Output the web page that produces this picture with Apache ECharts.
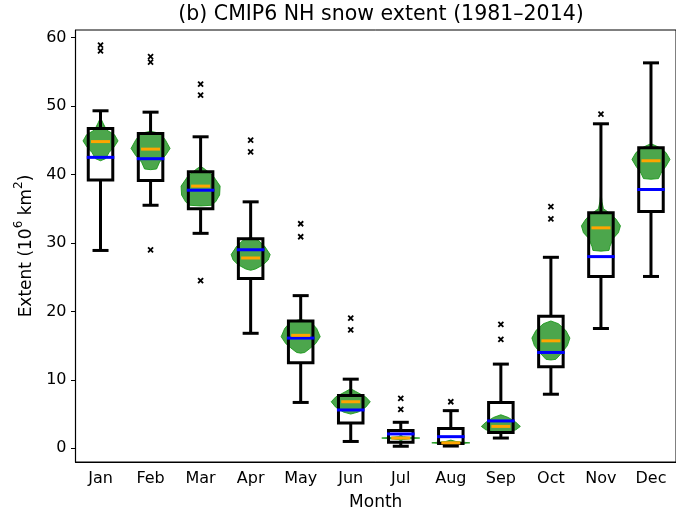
<!DOCTYPE html>
<html><head><meta charset="utf-8">
<script src="https://cdn.jsdelivr.net/npm/echarts@6/dist/echarts.min.js"></script>
<style>html,body{margin:0;padding:0;background:#fff}#c{width:676px;height:516px}</style>
</head><body><div id="c"></div>
<script>
const months = ['Jan','Feb','Mar','Apr','May','Jun','Jul','Aug','Sep','Oct','Nov','Dec'];
const whiskerLow  = [28.9, 35.5, 31.4, 16.8,  6.7,  1.0, 0.3, 0.33, 1.5,  7.9, 17.5, 25.1];
const q1          = [39.2, 39.1, 35.0, 24.8, 12.5,  3.7, 0.9, 0.7,  2.3, 11.9, 25.1, 34.6];
const median      = [42.5, 42.3, 37.7, 29.0, 16.1,  5.6, 2.1, 1.7,  4.0, 14.0, 28.0, 37.8];
const q3          = [46.7, 46.0, 40.4, 30.6, 18.6,  7.7, 2.6, 2.9,  6.7, 19.3, 34.4, 43.9];
const whiskerHigh = [49.3, 49.1, 45.5, 36.0, 22.3, 10.1, 3.8, 5.5, 12.3, 27.9, 47.4, 56.3];
const meanVals    = [44.8, 43.7, 38.3, 27.8, 16.5,  6.8, 1.5, 0.8,  3.2, 15.7, 32.2, 42.0];
const outliers = [
  [0, 58.9], [0, 58.05],
  [1, 57.2], [1, 56.4], [1, 29.0],
  [2, 53.2], [2, 51.6], [2, 24.5],
  [3, 45.0], [3, 43.3],
  [4, 32.8], [4, 30.9],
  [5, 19.0], [5, 17.3],
  [6, 7.3], [6, 5.7],
  [7, 6.8],
  [8, 18.1], [8, 15.9],
  [9, 35.3], [9, 33.5],
  [10, 48.8]
];
// violin outline per month: [value, half-width as fraction of category band]
const violinProfiles = [
  [[48.3,0],[47.5,0.05],[46.5,0.12],[45.8,0.28],[44.9,0.35],[44.0,0.27],[43.2,0.17],[42.3,0.1],[42.0,0]],
  [[46.3,0],[46.0,0.2],[45.0,0.3],[43.8,0.39],[42.8,0.3],[41.8,0.18],[40.8,0.12],[40.7,0]],
  [[41.2,0],[40.7,0.1],[39.8,0.25],[38.3,0.39],[37.0,0.38],[36.0,0.3],[35.5,0.22],[35.4,0]],
  [[30.8,0],[30.4,0.15],[29.5,0.28],[28.3,0.39],[27.5,0.35],[26.8,0.25],[26.2,0.1],[26.0,0]],
  [[18.8,0],[18.5,0.2],[17.5,0.32],[16.3,0.39],[15.3,0.3],[14.5,0.17],[14.0,0.08],[13.9,0]],
  [[8.7,0],[8.3,0.1],[7.5,0.3],[6.8,0.39],[6.0,0.3],[5.3,0.15],[5.0,0]],
  [[1.9,0],[1.7,0.05],[1.5,0.38],[1.3,0.05],[1.1,0]],
  [[1.2,0],[1.0,0.1],[0.8,0.38],[0.6,0.1],[0.4,0]],
  [[4.9,0],[4.5,0.15],[3.8,0.3],[3.2,0.39],[2.7,0.3],[2.3,0.1],[2.2,0]],
  [[18.6,0],[18.2,0.15],[17.2,0.3],[16.1,0.38],[15.0,0.33],[13.8,0.2],[13.0,0.1],[12.9,0]],
  [[37.5,0],[36.0,0.02],[35.0,0.05],[34.2,0.2],[33.5,0.3],[32.5,0.39],[31.5,0.35],[30.7,0.25],[29.5,0.18],[28.9,0.16],[28.8,0]],
  [[44.5,0],[44.0,0.15],[43.2,0.3],[42.2,0.38],[41.2,0.3],[40.2,0.2],[39.4,0.15],[39.3,0]]
];
const yTicks = [0, 10, 20, 30, 40, 50, 60];
const titleText = '(b) CMIP6 NH snow extent (1981\u20132014)';
const yName = '{n|Extent (10}{sup|6}{n| km}{sup|2}{n|)}';

const FONT = 'DejaVu Sans';
const chart = echarts.init(document.getElementById('c'));

function renderViolin(params, api) {
  const i = api.value(0);
  const prof = violinProfiles[i];
  const band = api.size([1, 0])[0];
  const cx = api.coord([i, 0])[0];
  const left = [], right = [];
  prof.forEach(function (p) {
    const y = api.coord([i, p[0]])[1];
    left.push([cx - p[1] * band, y]);
    right.push([cx + p[1] * band, y]);
  });
  return {
    type: 'polygon',
    shape: { points: left.concat(right.reverse()) },
    style: { fill: 'rgba(0,128,0,0.7)', stroke: 'rgba(20,150,20,0.85)', lineWidth: 1 }
  };
}

function renderBox(params, api) {
  const i = api.value(0);
  const band = api.size([1, 0])[0];
  const cx = api.coord([i, 0])[0];
  const yl = api.coord([i, api.value(1)])[1];
  const yq1 = api.coord([i, api.value(2)])[1];
  const yq3 = api.coord([i, api.value(4)])[1];
  const yh = api.coord([i, api.value(5)])[1];
  const bw = 0.245 * band, cw = 0.16 * band;
  const st = { stroke: '#000', lineWidth: 3 };
  return {
    type: 'group',
    children: [
      { type: 'line', shape: { x1: cx, y1: yq1, x2: cx, y2: yl }, style: st },
      { type: 'line', shape: { x1: cx, y1: yq3, x2: cx, y2: yh }, style: st },
      { type: 'line', shape: { x1: cx - cw, y1: yl, x2: cx + cw, y2: yl }, style: st },
      { type: 'line', shape: { x1: cx - cw, y1: yh, x2: cx + cw, y2: yh }, style: st },
      { type: 'rect', shape: { x: cx - bw, y: yq3, width: 2 * bw, height: yq1 - yq3 },
        style: { fill: 'none', stroke: '#000', lineWidth: 3, lineJoin: 'miter' } }
    ]
  };
}

function makeLine(color, frac) {
  return function (params, api) {
    const i = api.value(0);
    const band = api.size([1, 0])[0];
    const p = api.coord([i, api.value(1)]);
    const hw = frac * band;
    return { type: 'line', shape: { x1: p[0] - hw, y1: p[1], x2: p[0] + hw, y2: p[1] },
      style: { stroke: color, lineWidth: 3, lineCap: 'butt' } };
  };
}

function renderOutlier(params, api) {
  const p = api.coord([api.value(0), api.value(1)]);
  const s = 2.5;
  const st = { stroke: '#000', lineWidth: 1.8 };
  return { type: 'group', children: [
    { type: 'line', shape: { x1: p[0] - s, y1: p[1] - s, x2: p[0] + s, y2: p[1] + s }, style: st },
    { type: 'line', shape: { x1: p[0] - s, y1: p[1] + s, x2: p[0] + s, y2: p[1] - s }, style: st }
  ] };
}

const idx = months.map(function (m, i) { return i; });

chart.setOption({
  animation: false,
  backgroundColor: '#fff',
  graphic: [{
    type: 'text', x: 381, y: 15,
    style: { text: titleText, font: '20.5px "' + FONT + '"', fill: '#000', textAlign: 'center', textVerticalAlign: 'middle' }
  }],
  grid: { left: 75.5, top: 30, width: 602, height: 437.3, show: true, borderColor: '#000', borderWidth: 1, backgroundColor: 'transparent' },
  xAxis: {
    type: 'category', data: months, boundaryGap: true,
    name: 'Month', nameLocation: 'middle', nameGap: 32,
    nameTextStyle: { fontFamily: FONT, fontSize: 17, color: '#000' },
    axisLine: { onZero: false, lineStyle: { color: '#000', width: 1.2 } },
    axisTick: { alignWithLabel: true, length: 4.5, lineStyle: { color: '#000', width: 1 } },
    axisLabel: { fontFamily: FONT, fontSize: 16, color: '#000', margin: 9 },
    splitLine: { show: false }
  },
  yAxis: {
    type: 'value', min: -2.0, max: 61.1,
    name: yName, nameLocation: 'middle', nameGap: 40,
    nameTextStyle: { fontFamily: FONT, fontSize: 17, color: '#000',
      rich: {
        n: { fontFamily: FONT, fontSize: 17, color: '#000', lineHeight: 22, verticalAlign: 'bottom' },
        sup: { fontFamily: FONT, fontSize: 12, color: '#000', lineHeight: 12, verticalAlign: 'top' }
      } },
    axisLine: { show: true, onZero: false, lineStyle: { color: '#000', width: 1.2 } },
    axisTick: { show: true, length: 4.5, customValues: yTicks, lineStyle: { color: '#000', width: 1 } },
    axisLabel: { fontFamily: FONT, fontSize: 16, color: '#000', margin: 9, customValues: yTicks },
    splitLine: { show: false }
  },
  series: [
    { type: 'custom', renderItem: renderViolin, data: idx.map(function (i) { return [i]; }), z: 2 },
    { type: 'custom', renderItem: renderBox, z: 3,
      data: idx.map(function (i) { return [i, whiskerLow[i], q1[i], median[i], q3[i], whiskerHigh[i]]; }) },
    { type: 'custom', renderItem: makeLine('#0000ff', 0.275), z: 4,
      data: idx.map(function (i) { return [i, median[i]]; }) },
    { type: 'custom', renderItem: makeLine('#ffa500', 0.19), z: 5,
      data: idx.map(function (i) { return [i, meanVals[i]]; }) },
    { type: 'custom', renderItem: renderOutlier, z: 6, data: outliers }
  ]
});
</script>
</body></html>
